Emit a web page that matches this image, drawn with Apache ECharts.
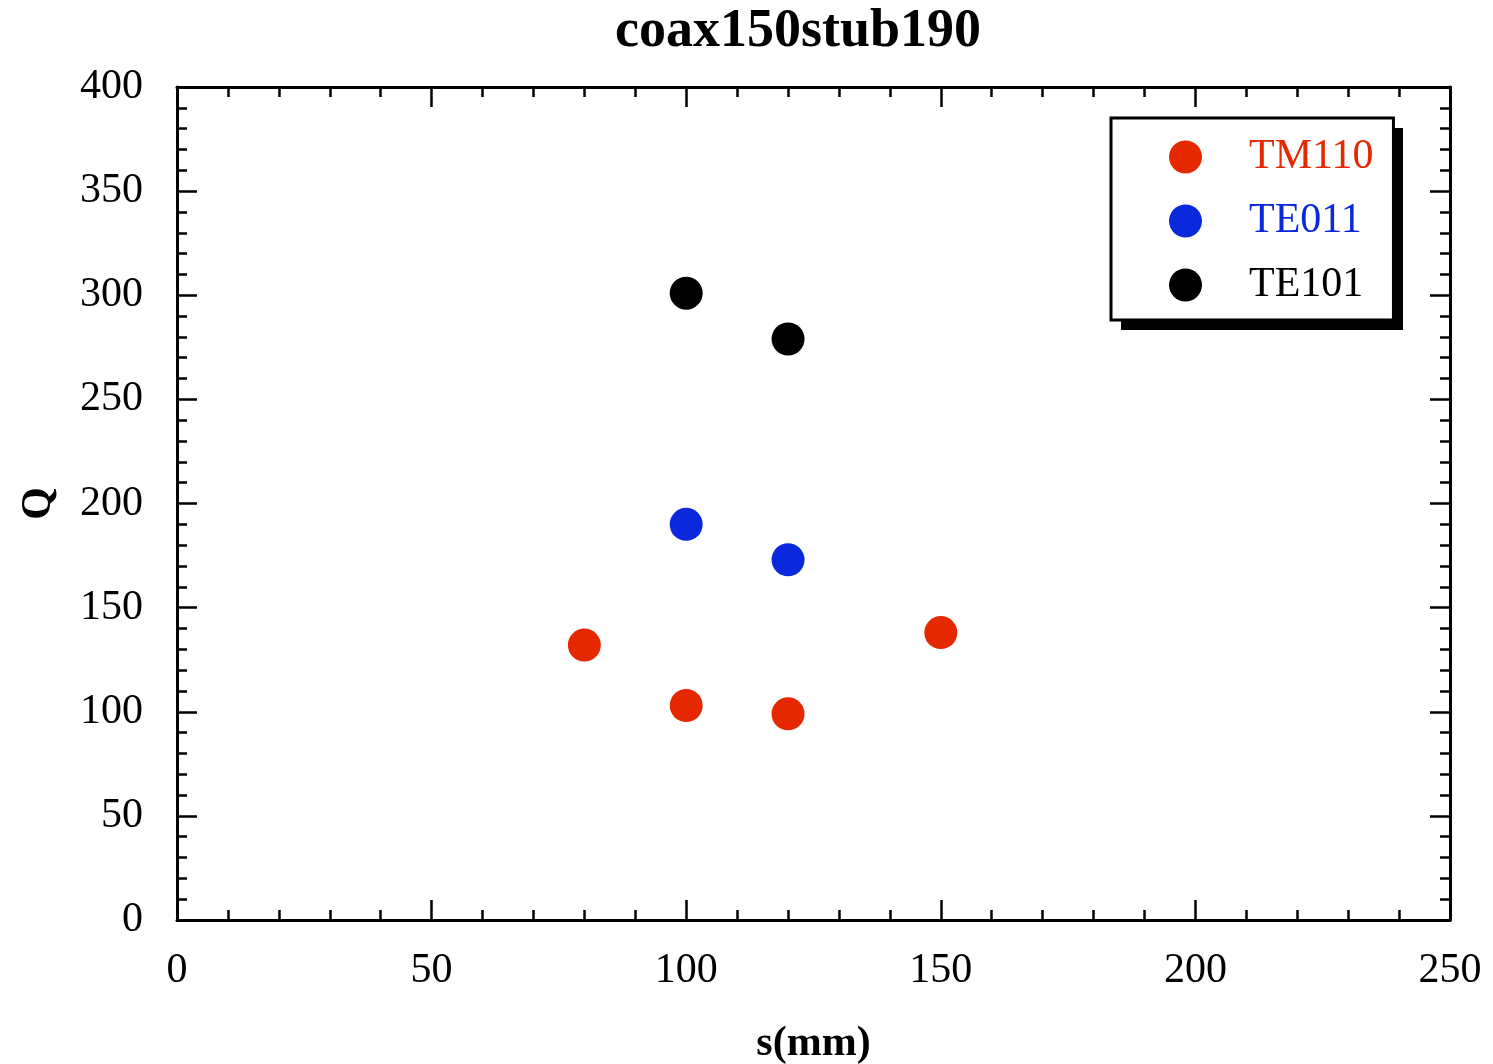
<!DOCTYPE html>
<html>
<head>
<meta charset="utf-8">
<script src="https://cdn.jsdelivr.net/npm/echarts@6/dist/echarts.min.js"></script>
<style>
  * { margin: 0; padding: 0; }
  body { background: #fff; }
  #chart { width: 1493px; height: 1064px; }
</style>
</head>
<body>
<div id="chart"></div>
<script>
// values
var tm110X = [80, 100, 120, 150];
var tm110Y = [132, 103, 99, 138];
var te011X = [100, 120];
var te011Y = [190, 173];
var te101X = [100, 120];
var te101Y = [301, 279];

var seriesNames = ['TM110', 'TE011', 'TE101'];
var seriesColors = ['#e62800', '#0a28dc', '#000000'];

function pairs(xs, ys) {
  var out = [];
  for (var i = 0; i < xs.length; i++) {
    out.push([xs[i], ys[i]]);
  }
  return out;
}

var font = 'Liberation Serif';

// shared look for the four frame axes
function frameAxis(extra) {
  var base = {
    type: 'value',
    axisLine: { show: true, onZero: false, lineStyle: { color: '#000', width: 3 } },
    axisTick: { show: true, inside: true, length: 20, lineStyle: { color: '#000', width: 2.5 } },
    minorTick: { show: true, splitNumber: 5, length: 10, lineStyle: { color: '#000', width: 2.5 } },
    splitLine: { show: false },
    axisLabel: { show: false }
  };
  for (var k in extra) base[k] = extra[k];
  return base;
}

var myChart = echarts.init(document.getElementById('chart'));
myChart.setOption({
  backgroundColor: '#fff',
  animation: false,
  title: {
    text: 'coax150stub190',
    left: 610,
    top: 0,
    textStyle: { fontFamily: font, fontSize: 54, fontWeight: 'bold', color: '#000' }
  },
  // drop shadow behind the legend box
  graphic: [{
    type: 'rect',
    left: 1121,
    top: 128,
    z: 0,
    shape: { width: 282, height: 202 },
    style: { fill: '#000' }
  }],
  legend: {
    orient: 'vertical',
    left: 1111,
    top: 118,
    z: 10,
    padding: [18, 20, 14, 58],
    itemWidth: 33,
    itemHeight: 33,
    itemGap: 22,
    icon: 'circle',
    backgroundColor: '#fff',
    borderColor: '#000',
    borderWidth: 3,
    borderRadius: 0,
    textStyle: { fontFamily: font, fontSize: 42, padding: [0, 0, 0, 42] },
    data: seriesNames.map(function (n, i) {
      return { name: n, textStyle: { color: seriesColors[i] } };
    })
  },
  grid: { left: 177, right: 43, top: 87, bottom: 144, outerBoundsMode: 'none' },
  xAxis: [
    frameAxis({
      min: 0, max: 250, interval: 50, position: 'bottom',
      name: 's(mm)', nameLocation: 'middle', nameGap: 103,
      nameTextStyle: { fontFamily: font, fontSize: 42, fontWeight: 'bold', color: '#000' },
      axisLabel: { show: true, margin: 30, fontFamily: font, fontSize: 42, color: '#000' }
    }),
    frameAxis({ min: 0, max: 250, interval: 50, position: 'top' })
  ],
  yAxis: [
    frameAxis({
      min: 0, max: 400, interval: 50, position: 'left',
      name: 'Q', nameLocation: 'middle', nameGap: 117,
      nameTextStyle: { fontFamily: font, fontSize: 42, fontWeight: 'bold', color: '#000' },
      axisLabel: { show: true, margin: 34, fontFamily: font, fontSize: 42, color: '#000' }
    }),
    frameAxis({ min: 0, max: 400, interval: 50, position: 'right' })
  ],
  series: [
    { name: 'TM110', type: 'scatter', symbolSize: 33, itemStyle: { color: seriesColors[0], opacity: 1 }, data: pairs(tm110X, tm110Y) },
    { name: 'TE011', type: 'scatter', symbolSize: 33, itemStyle: { color: seriesColors[1], opacity: 1 }, data: pairs(te011X, te011Y) },
    { name: 'TE101', type: 'scatter', symbolSize: 33, itemStyle: { color: seriesColors[2], opacity: 1 }, data: pairs(te101X, te101Y) }
  ]
});
</script>
</body>
</html>
